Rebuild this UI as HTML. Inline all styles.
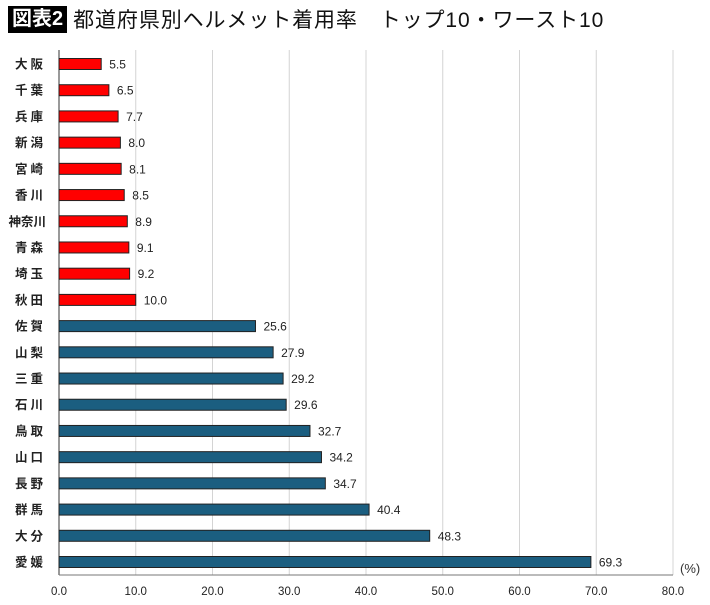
<!DOCTYPE html>
<html><head><meta charset="utf-8"><style>
body{margin:0;width:710px;height:605px;background:#fff;overflow:hidden;font-family:"Liberation Sans","Noto Sans CJK JP",sans-serif;}
#title{position:absolute;left:8px;top:5px;height:28px;display:flex;align-items:center;}
#badge{background:#000;color:#fff;font-size:20px;font-weight:bold;padding:0 4px;height:27px;line-height:27px;}
#ttext{font-size:21px;margin-left:6px;color:#111;letter-spacing:0.9px;}
</style></head><body>
<div id="title"><span id="badge">図表2</span><span id="ttext">都道府県別ヘルメット着用率　トップ10・ワースト10</span></div>
<svg id="chart" width="710" height="605" style="position:absolute;left:0;top:0"></svg>
<script>
const categories=["大阪","千葉","兵庫","新潟","宮崎","香川","神奈川","青森","埼玉","秋田","佐賀","山梨","三重","石川","鳥取","山口","長野","群馬","大分","愛媛"];
const values=[5.5,6.5,7.7,8.0,8.1,8.5,8.9,9.1,9.2,10.0,25.6,27.9,29.2,29.6,32.7,34.2,34.7,40.4,48.3,69.3];
const groups=["top","top","top","top","top","top","top","top","top","top","worst","worst","worst","worst","worst","worst","worst","worst","worst","worst"];
const ticks=[0,10,20,30,40,50,60,70,80];
const tickLabels=["0.0","10.0","20.0","30.0","40.0","50.0","60.0","70.0","80.0"];
const svg=document.getElementById('chart');
const NS='http://www.w3.org/2000/svg';
const x0=59,x1=673,yTop=50,yBot=575;
const xs=v=>x0+(v-0)/(80-0)*(x1-x0);
const ys=i=>64+i*(562-64)/(categories.length-1);
function mk(t,a){const e=document.createElementNS(NS,t);for(const k in a)e.setAttribute(k,a[k]);svg.appendChild(e);return e;}
ticks.forEach((t,i)=>{
  if(i>0){const g=mk('line',{x1:xs(t),x2:xs(t),y1:yTop,y2:yBot,stroke:'#d4d4d4','stroke-width':1});
  
  }
  const l=mk('text',{x:xs(t),y:595,'text-anchor':'middle','font-size':11.5,fill:'#222'});
  l.textContent=tickLabels[i];
  
  
});
const ax=mk('line',{x1:x0,x2:x0,y1:yTop,y2:yBot,stroke:'#333','stroke-width':1});


const bx=mk('line',{x1:x0,x2:x1,y1:yBot,y2:yBot,stroke:'#777','stroke-width':1});


categories.forEach((c,i)=>{
  const y=ys(i);
  const r=mk('rect',{x:x0,y:y-5.5,width:xs(values[i])-x0,height:11,fill:groups[i]==='top'?'#ff0000':'#1b5e80',stroke:'#222','stroke-width':1});
  
  
  const v=mk('text',{x:xs(values[i])+8,y:y+4.5,'font-size':12,fill:'#222'});
  v.textContent=values[i].toFixed(1);
  
  
  const l=mk('text',{x:46,y:y+4.5,'text-anchor':'end','font-size':12.5,'font-weight':'600',fill:'#222','letter-spacing':c.length===2?3:0});
  l.textContent=c;
  
  
});
const u=mk('text',{x:680,y:573,'font-size':13,fill:'#333'});
u.textContent='(%)';


</script>
</body></html>
